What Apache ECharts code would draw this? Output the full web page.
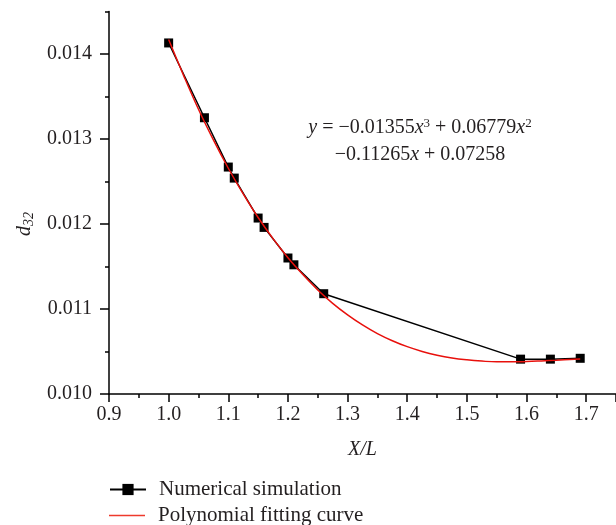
<!DOCTYPE html>
<html>
<head>
<meta charset="utf-8">
<script src="https://cdn.jsdelivr.net/npm/echarts@6/dist/echarts.min.js"></script>
<style>html,body{margin:0;padding:0;background:#fff}#c{width:616px;height:525px}</style>
</head>
<body>
<div id="c"></div>
<script>
// Numerical simulation points
var simX = [1.00, 1.06, 1.10, 1.11, 1.15, 1.16, 1.20, 1.21, 1.26, 1.59, 1.64, 1.69];
var simY = [0.01413, 0.01325, 0.01267, 0.01254, 0.01207, 0.01196, 0.01160, 0.01152, 0.01118, 0.01041, 0.01041, 0.01042];
// Polynomial fitting curve
var fitX = [1.00, 1.025, 1.05, 1.075, 1.10, 1.125, 1.15, 1.175, 1.20, 1.225, 1.25, 1.275, 1.30, 1.325, 1.35, 1.375, 1.40, 1.425, 1.45, 1.475, 1.50, 1.525, 1.55, 1.575, 1.60, 1.625, 1.65, 1.69];
var fitY = [0.014170, 0.013749, 0.013350, 0.012989, 0.012656, 0.012354, 0.012076, 0.011828, 0.011604, 0.011405, 0.011224, 0.011067, 0.010931, 0.010813, 0.010711, 0.010627, 0.010557, 0.010501, 0.010457, 0.010424, 0.010402, 0.010387, 0.010378, 0.010378, 0.010382, 0.010389, 0.010397, 0.010413];
// Axis ticks
var xTicks = [0.9, 1.0, 1.1, 1.2, 1.3, 1.4, 1.5, 1.6, 1.7];
var yTicks = [0.010, 0.011, 0.012, 0.013, 0.014];
var seriesNames = ['Numerical simulation', 'Polynomial fitting curve'];

function zip(a, b) { return a.map(function (v, i) { return [v, b[i]]; }); }

var FONT = 'Liberation Serif';
var TXT = '#231f20';
var FS = 20;
var chart = echarts.init(document.getElementById('c'), null, {renderer: 'canvas'});
chart.setOption({
  animation: false,
  textStyle: {fontFamily: FONT},
  grid: [
    {left: 109, top: 11.5, right: -4, bottom: 131},
    {left: 109, top: 54, right: -4, bottom: 131}
  ],
  xAxis: [
    {
      type: 'value', gridIndex: 0, min: 0.9, max: 1.75, interval: 0.1,
      name: 'X/L', nameLocation: 'middle', nameGap: 46,
      nameTextStyle: {fontFamily: FONT, fontSize: FS, fontStyle: 'italic', color: TXT},
      axisLine: {lineStyle: {color: '#000', width: 1.5}},
      axisTick: {show: true, length: 8, lineStyle: {color: '#000', width: 1.5}},
      minorTick: {show: true, splitNumber: 2, length: 4, lineStyle: {color: '#000', width: 1.5}},
      splitLine: {show: false},
      axisLabel: {fontFamily: FONT, fontSize: FS, color: TXT, margin: 11, showMaxLabel: false,
        formatter: function (v) { return xTicks.indexOf(Math.round(v * 10) / 10) >= 0 ? v.toFixed(1) : ''; }}
    },
    {type: 'value', gridIndex: 1, min: 0.9, max: 1.75, show: false}
  ],
  yAxis: [
    {
      type: 'value', gridIndex: 0, min: 0.010, max: 0.0145, interval: 0.0005,
      axisLine: {show: true, lineStyle: {color: '#000', width: 1.5}},
      axisTick: {show: true, length: 4, lineStyle: {color: '#000', width: 1.5}},
      splitLine: {show: false},
      axisLabel: {show: false}
    },
    {
      type: 'value', gridIndex: 1, min: 0.010, max: 0.014, interval: 0.001,
      name: '{i|d}{s|32}', nameLocation: 'middle', nameGap: 71, nameRotate: 90,
      nameTextStyle: {
        rich: {
          i: {fontFamily: FONT, fontSize: FS, fontStyle: 'italic', color: TXT},
          s: {fontFamily: FONT, fontSize: 14, fontStyle: 'italic', color: TXT, verticalAlign: 'bottom', padding: [9, 0, 0, 0]}
        }
      },
      axisLine: {show: false},
      axisTick: {show: true, length: 9, lineStyle: {color: '#000', width: 1.5}},
      splitLine: {show: false},
      axisLabel: {fontFamily: FONT, fontSize: FS, color: TXT, margin: 17,
        formatter: function (v) { return v.toFixed(3); }}
    }
  ],
  legend: [
    {
      orient: 'horizontal', left: 109, top: 479, padding: 0, itemWidth: 36, itemHeight: 14,
      textStyle: {fontFamily: FONT, fontSize: 21, color: TXT, padding: [0, 0, 0, 8]},
      data: [seriesNames[0]]
    },
    {
      orient: 'horizontal', left: 109, top: 505, padding: 0, itemWidth: 36, itemHeight: 14,
      textStyle: {fontFamily: FONT, fontSize: 21, color: TXT, padding: [0, 0, 0, 8]},
      data: [{name: seriesNames[1], icon: 'path://M0,0 L36,0 L36,1.5 L0,1.5 Z', itemStyle: {color: '#ee3a2c'}}]
    }
  ],
  series: [
    {
      name: seriesNames[1], type: 'line', xAxisIndex: 0, yAxisIndex: 0,
      data: zip(fitX, fitY), smooth: 0.4, showSymbol: false, symbol: 'none',
      lineStyle: {color: '#e8100c', width: 1.5}, itemStyle: {color: '#e8100c'}, z: 3
    },
    {
      name: seriesNames[0], type: 'line', xAxisIndex: 0, yAxisIndex: 0,
      data: zip(simX, simY), symbol: 'rect', symbolSize: 9,
      lineStyle: {color: '#000', width: 1.5}, itemStyle: {color: '#000'}, z: 2
    }
  ],
  graphic: [
    {
      type: 'text', x: 420, y: 128,
      style: {
        text: '{i|y} = \u22120.01355{i|x}{sp|3} + 0.06779{i|x}{sp|2}',
        align: 'center', verticalAlign: 'middle',
        font: FS + 'px "Liberation Serif"', fill: TXT,
        rich: {
          i: {fontFamily: FONT, fontSize: FS, fontStyle: 'italic', fill: TXT},
          sp: {fontFamily: FONT, fontSize: 13, fill: TXT, verticalAlign: 'top', padding: [0, 0, 8, 0]}
        }
      }
    },
    {
      type: 'text', x: 420, y: 155,
      style: {
        text: '\u22120.11265{i|x} + 0.07258',
        align: 'center', verticalAlign: 'middle',
        font: FS + 'px "Liberation Serif"', fill: TXT,
        rich: {
          i: {fontFamily: FONT, fontSize: FS, fontStyle: 'italic', fill: TXT}
        }
      }
    }
  ]
});
</script>
</body>
</html>
